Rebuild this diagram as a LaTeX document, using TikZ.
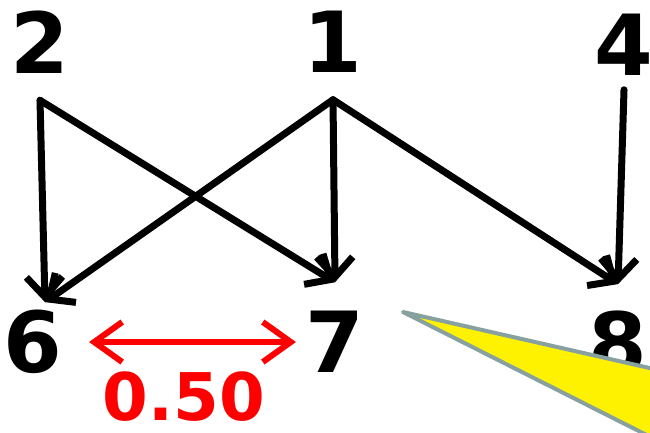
\documentclass[tikz,border=0pt]{standalone}
\usepackage{fontspec}
\setmainfont{DejaVu Sans}
\usetikzlibrary{arrows.meta}
\definecolor{callgray}{HTML}{87A0A0}
\begin{document}
\begin{tikzpicture}[x=0.1mm,y=-0.1mm,>={Straight Barb[length=2mm,width=3.6mm]},
  num/.style={inner sep=0pt,font=\fontsize{24}{24}\selectfont\bfseries},
  toprow/.style={num,outer ysep=2.7mm},
  botrow/.style={num,outer ysep=2.9mm},
  link/.style={->,line width=0.7mm,line cap=round,line join=round}]
\useasboundingbox (0,0) rectangle (650,432);
\node[toprow] (n2) at (40,42) {2};
\node[toprow] (n1) at (333,42) {1};
\node[toprow,outer ysep=1.4mm] (n4) at (624,45) {4};
\node[botrow,outer ysep=0.8mm] (n6) at (33,342) {6};
\node[botrow] (n7) at (335,342) {7};
\node[botrow,outer ysep=2.7mm] (n8) at (618,343) {8};
\draw[link] (n2.south) -- ([xshift=1.2mm]n6.north);
\draw[link] (n2.south) -- (n7.north);
\draw[link] (n1.south) -- ([xshift=1.2mm]n6.north);
\draw[link] (n1.south) -- (n7.north);
\draw[link] (n1.south) -- (n8.north);
\draw[link] (n4.south) -- (n8.north);
\draw[<->,red,line width=0.6mm,line cap=round,line join=round,>={Straight Barb[length=2.8mm,width=4mm]},shorten <=2.6mm,shorten >=0.9mm] (n6.east) -- (n7.west)
  node[midway,yshift=-5.5mm,font=\fontsize{18.7}{18.7}\selectfont\bfseries] (d) {0.50};
\draw[callgray,fill=yellow,line width=0.4mm,line join=round] (403,312) -- (720,384) -- (720,472) -- cycle;
\end{tikzpicture}
\end{document}
